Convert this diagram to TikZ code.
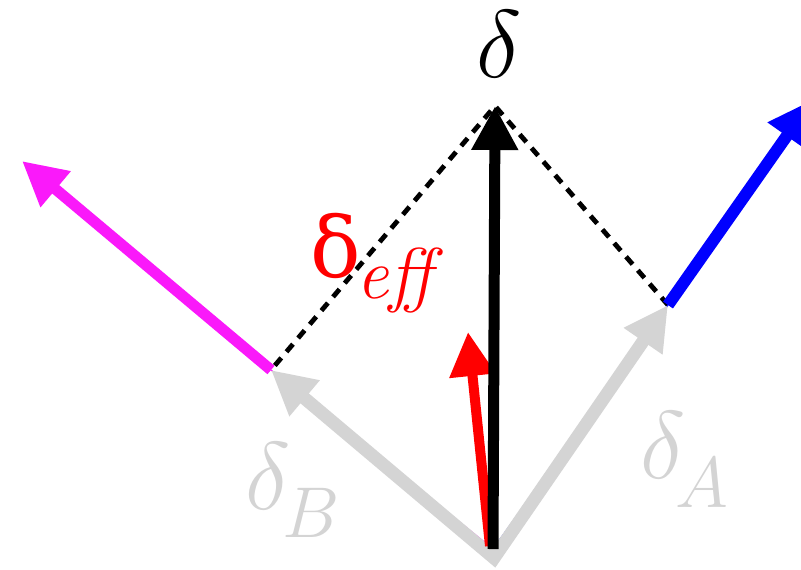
\RequirePackage{fix-cm}
\documentclass[tikz,border=0pt]{standalone}
\usepackage{fontspec}
\newfontfamily\symfont{DejaVu Serif}
\usetikzlibrary{arrows.meta}
\tikzset{>={Triangle[length=22pt,width=22pt]}}
\colorlet{vecgray}{black!17}
\definecolor{vecmag}{RGB}{250,25,250}
\tikzstyle{vec}=[->,line width=5.5pt]
\tikzstyle{guide}=[line width=2.4pt,dash pattern=on 5pt off 4pt]
\tikzstyle{lbl}=[anchor=base west,inner sep=0]
\newcommand{\bigsym}{\fontsize{48}{48}\selectfont}
\newcommand{\subsym}{\fontsize{36}{36}\selectfont}
\DeclareMathSizes{48}{48}{36}{30}
\DeclareMathSizes{36}{36}{27}{20}

\begin{document}
\begin{tikzpicture}[x=0.5pt,y=-0.5pt]
  \useasboundingbox (0,0) rectangle (801,569);
  \clip (0,0) rectangle (801,569);
  \coordinate (O)  at (493,549); % common origin
  \coordinate (G)  at (494,558); % origin of grey components
  \coordinate (T)  at (495,106); % tip delta
  \coordinate (A)  at (668,305); % tip delta_A
  \coordinate (B)  at (271,370); % tip delta_B
  \coordinate (BA) at (812,100); % blue tip
  \coordinate (MB) at (22,161);  % magenta tip
  \coordinate (R0) at (490,546);
  \coordinate (R)  at (468,332); % tip delta_eff

  % PARALLELOGRAM
  \draw[guide] (A) -- (T) -- (B);

  % AXES
  \draw[blue,line width=0.6pt] (O) -- (A);
  \draw[vecmag,line width=0.6pt] (O) -- (B);
  \draw[vec,blue,line width=6pt] (A) -- (BA);
  \draw[vec,vecmag] (B) -- (MB);

  % COMPONENTS
  \draw[vec,<->,vecgray,line width=6.5pt] (B) -- (G) -- (A);

  % VECTORS
  \draw[vec,red,line width=5pt] (R0) -- (R);
  \draw[vec,black] (O) -- (T);

  % LABELS
  \node[lbl] (d) at (476,77) {\bigsym$\delta$};
  \node[lbl,red] (deff) at (310,277) {\symfont\fontsize{42}{42}\selectfont δ\kern-2pt\raisebox{-10.5pt}{\normalfont\subsym\itshape eff}};
  \node[lbl,vecgray] (dB) at (245,509) {\bigsym$\delta$\kern-4pt\raisebox{-14pt}{\subsym$B$}};
  \node[lbl,vecgray] (dA) at (640,478) {\bigsym$\delta$\kern-5pt\raisebox{-14.5pt}{\subsym$A$}};
\end{tikzpicture}
\end{document}
